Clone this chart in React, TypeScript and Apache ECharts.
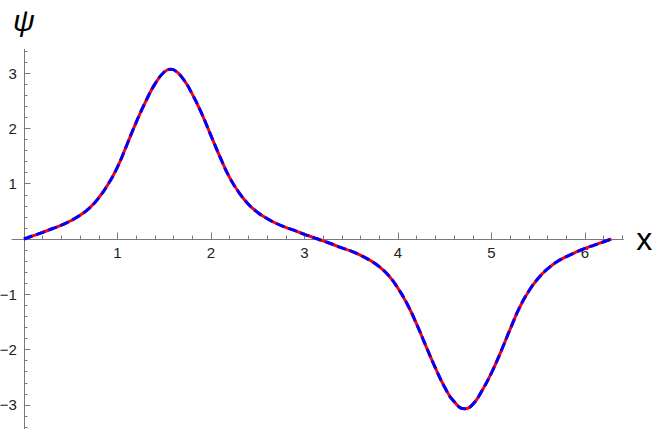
import React, { useEffect, useRef } from "react";
import * as echarts from "echarts";

// x positions (0 .. 2π) and the curve ψ(x)
const xValues = [
  0, 0.1, 0.2, 0.3, 0.4, 0.5, 0.6, 0.7, 0.8, 0.9,
  1.0, 1.1, 1.2, 1.3, 1.4, 1.5, 1.5708, 1.6, 1.7, 1.8, 1.9,
  2.0, 2.1, 2.2, 2.3, 2.4, 2.5, 2.6, 2.7, 2.8, 2.9,
  3.0, 3.1, 3.1416, 3.2, 3.3, 3.4, 3.5, 3.6, 3.7, 3.8, 3.9,
  4.0, 4.1, 4.2, 4.3, 4.4, 4.5, 4.6, 4.7124, 4.8, 4.9,
  5.0, 5.1, 5.2, 5.3, 5.4, 5.5, 5.6, 5.7, 5.8, 5.9,
  6.0, 6.1, 6.2, 6.2832,
];
const psiValues = [
  0, 0.06, 0.12, 0.185, 0.25, 0.33, 0.43, 0.56, 0.745, 0.99,
  1.3, 1.7, 2.11, 2.48, 2.8, 3.02, 3.07, 3.06, 2.9, 2.62, 2.27,
  1.87, 1.47, 1.11, 0.84, 0.63, 0.48, 0.37, 0.28, 0.21, 0.15,
  0.085, 0.025, 0, -0.035, -0.095, -0.16, -0.22, -0.295, -0.385, -0.5, -0.66,
  -0.89, -1.18, -1.54, -1.94, -2.33, -2.68, -2.94, -3.07, -2.99, -2.74,
  -2.42, -2.04, -1.63, -1.24, -0.94, -0.71, -0.54, -0.41, -0.32, -0.24,
  -0.17, -0.11, -0.05, 0,
];

const xMajorTicks = [1, 2, 3, 4, 5, 6];
const xMinorTicks = [
  0.2, 0.4, 0.6, 0.8, 1.2, 1.4, 1.6, 1.8, 2.2, 2.4, 2.6, 2.8, 3.2, 3.4, 3.6, 3.8,
  4.2, 4.4, 4.6, 4.8, 5.2, 5.4, 5.6, 5.8, 6.2, 6.4,
];
const yMajorTicks = [-3, -2, -1, 1, 2, 3];
const yMinorTicks = [
  -3.4, -3.2, -2.8, -2.6, -2.4, -2.2, -1.8, -1.6, -1.4, -1.2, -0.8, -0.6, -0.4, -0.2,
  0.2, 0.4, 0.6, 0.8, 1.2, 1.4, 1.6, 1.8, 2.2, 2.4, 2.6, 2.8, 3.2, 3.4,
];

const X_MIN = -0.128;
const X_MAX = 6.41;
const Y_MIN = -3.43;
const Y_MAX = 3.43;

// plot frame (pixels)
const PLOT_LEFT = 12;
const PLOT_TOP = 49.3;
const PLOT_W = 611.3;
const PLOT_H = 379.4;

const FONT = "'Liberation Sans', Arial, sans-serif";
const AXIS_COLOR = "#7a7a7a";
const LABEL_COLOR = "#222";

export default function App() {
  const ref = useRef<HTMLDivElement>(null);

  useEffect(() => {
    if (!ref.current) return;
    const chart = echarts.init(ref.current, null, { renderer: "svg" });
    const data = xValues.map((x, i) => [x, psiValues[i]]);

    // pixel position of x = 0 and y = 0 inside the frame
    const zeroX = PLOT_LEFT + ((0 - X_MIN) / (X_MAX - X_MIN)) * PLOT_W;
    const zeroY = PLOT_TOP + ((Y_MAX - 0) / (Y_MAX - Y_MIN)) * PLOT_H;

    const base = { containLabel: false, outerBoundsMode: "none" };
    const fullRect = { ...base, left: PLOT_LEFT, top: PLOT_TOP, width: PLOT_W, height: PLOT_H };
    const xAxisRect = { ...base, left: PLOT_LEFT, top: PLOT_TOP, width: PLOT_W, height: zeroY - PLOT_TOP };
    const yAxisRect = {
      ...base,
      left: zeroX,
      top: PLOT_TOP,
      width: PLOT_LEFT + PLOT_W - zeroX,
      height: PLOT_H,
    };
    const minus = (v: number) => (v < 0 ? "\u2212" + Math.abs(v) : String(v));
    const labelStyle = { fontSize: 15, fontFamily: FONT, color: LABEL_COLOR, formatter: minus };
    const hiddenAxis = { show: false, type: "value" };

    chart.setOption({
      animation: false,
      backgroundColor: "#fff",
      grid: [fullRect, xAxisRect, xAxisRect, yAxisRect, yAxisRect],
      xAxis: [
        { ...hiddenAxis, gridIndex: 0, min: X_MIN, max: X_MAX },
        {
          gridIndex: 1,
          type: "value",
          position: "bottom",
          min: X_MIN,
          max: X_MAX,
          axisLine: { show: true, onZero: false, lineStyle: { color: AXIS_COLOR, width: 1 } },
          axisTick: {
            show: true,
            inside: true,
            length: 6.5,
            customValues: xMajorTicks,
            lineStyle: { color: AXIS_COLOR, width: 1 },
          },
          axisLabel: { show: true, customValues: xMajorTicks, margin: 6, ...labelStyle },
          splitLine: { show: false },
          name: "x",
          nameLocation: "end",
          nameGap: 13,
          nameTextStyle: { fontSize: 32, fontFamily: FONT, color: "#000", verticalAlign: "middle" },
        },
        {
          gridIndex: 2,
          type: "value",
          position: "bottom",
          min: X_MIN,
          max: X_MAX,
          axisLine: { show: false, onZero: false },
          axisTick: {
            show: true,
            inside: true,
            length: 3.5,
            customValues: xMinorTicks,
            lineStyle: { color: AXIS_COLOR, width: 1 },
          },
          axisLabel: { show: false },
          splitLine: { show: false },
        },
        { ...hiddenAxis, gridIndex: 3, min: 0, max: 1 },
        { ...hiddenAxis, gridIndex: 4, min: 0, max: 1 },
      ],
      yAxis: [
        { ...hiddenAxis, gridIndex: 0, min: Y_MIN, max: Y_MAX },
        { ...hiddenAxis, gridIndex: 1, min: 0, max: 1 },
        { ...hiddenAxis, gridIndex: 2, min: 0, max: 1 },
        {
          gridIndex: 3,
          type: "value",
          position: "left",
          min: Y_MIN,
          max: Y_MAX,
          axisLine: { show: true, onZero: false, lineStyle: { color: AXIS_COLOR, width: 1 } },
          axisTick: {
            show: true,
            inside: true,
            length: 6.5,
            customValues: yMajorTicks,
            lineStyle: { color: AXIS_COLOR, width: 1 },
          },
          axisLabel: { show: true, customValues: yMajorTicks, margin: 7, ...labelStyle },
          splitLine: { show: false },
          name: "ψ",
          nameLocation: "end",
          nameGap: 14,
          nameTextStyle: {
            fontSize: 30,
            fontFamily: FONT,
            fontStyle: "italic",
            color: "#000",
            align: "center",
          },
        },
        {
          gridIndex: 4,
          type: "value",
          position: "left",
          min: Y_MIN,
          max: Y_MAX,
          axisLine: { show: false, onZero: false },
          axisTick: {
            show: true,
            inside: true,
            length: 3.5,
            customValues: yMinorTicks,
            lineStyle: { color: AXIS_COLOR, width: 1 },
          },
          axisLabel: { show: false },
          splitLine: { show: false },
        },
      ],
      series: [
        {
          type: "line",
          xAxisIndex: 0,
          yAxisIndex: 0,
          data,
          showSymbol: false,
          smooth: 0.5,
          lineStyle: { color: "#ff0000", width: 3 },
          silent: true,
        },
        {
          type: "line",
          xAxisIndex: 0,
          yAxisIndex: 0,
          data,
          showSymbol: false,
          smooth: 0.5,
          lineStyle: { color: "#0000ff", width: 3, type: [9, 4], cap: "butt" },
          silent: true,
        },
      ],
    });

    return () => chart.dispose();
  }, []);

  return (
    <div
      ref={ref}
      style={{ position: "fixed", left: 0, top: 0, width: 654, height: 429, background: "#fff" }}
    />
  );
}
